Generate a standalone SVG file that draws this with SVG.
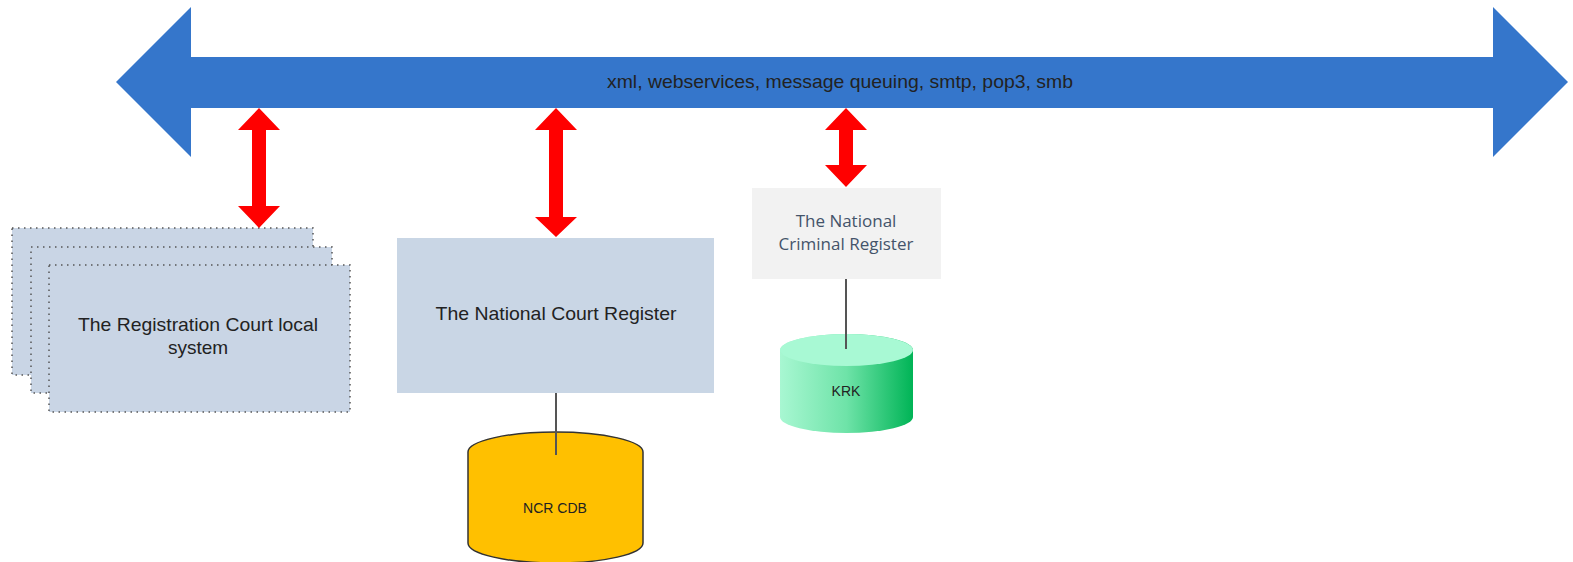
<svg xmlns="http://www.w3.org/2000/svg" width="1573" height="562" viewBox="0 0 1573 562">
  <defs>
    <linearGradient id="krkGrad" x1="0" y1="0" x2="1" y2="0">
      <stop offset="0" stop-color="#a8f7d2"/>
      <stop offset="0.5" stop-color="#6ee3a8"/>
      <stop offset="1" stop-color="#00b456"/>
    </linearGradient>
    <style>
      .lbl { font-family: "Liberation Sans", Arial, sans-serif; fill: #222; text-anchor: middle; }
      .stack { fill: #c9d5e5; stroke: #555; stroke-width: 1.5; stroke-dasharray: 1.5 4.5; }
      .red { fill: #ff0000; }
      .link { stroke: #555; stroke-width: 2; fill: none; }
      .ocr { font-family: "Open Sans", "Noto Sans", sans-serif; fill: #44546a; text-anchor: middle; font-size: 17px; }
    </style>
  </defs>
  <rect width="1573" height="562" fill="#ffffff"/>

  <g id="bus">
    <polygon points="116,82 191,7 191,57 1493,57 1493,7 1568,82 1493,157 1493,108 191,108 191,157" fill="#3576cb"/>
    <text class="lbl" x="840" y="88" font-size="18.5" textLength="466" lengthAdjust="spacingAndGlyphs">xml, webservices, message queuing, smtp, pop3, smb</text>
  </g>

  <g id="registration-court">
    <rect class="stack" x="12" y="228" width="301" height="147"/>
    <rect class="stack" x="31" y="247" width="301" height="146"/>
    <rect class="stack" x="49" y="265" width="301" height="147"/>
    <text class="lbl" x="198" y="331" font-size="19" textLength="240" lengthAdjust="spacingAndGlyphs">The Registration Court local</text>
    <text class="lbl" x="198" y="354" font-size="19">system</text>
  </g>

  <g id="national-court-register">
    <rect x="397" y="238" width="317" height="155" fill="#c9d6e5"/>
    <text class="lbl" x="556" y="320" font-size="19" textLength="241" lengthAdjust="spacingAndGlyphs">The National Court Register</text>
  </g>

  <g id="national-criminal-register">
    <rect x="752" y="188" width="189" height="91" fill="#f2f2f2"/>
    <text class="ocr" x="846" y="227">The National</text>
    <text class="ocr" x="846" y="250">Criminal Register</text>
  </g>

  <g id="ncr-cdb">
    <path d="M468,452 A87.5,20 0 0 1 643,452 L643,543 A87.5,20 0 0 1 468,543 Z" fill="#ffc000" stroke="#333" stroke-width="1.5"/>
    <text class="lbl" x="555" y="513" font-size="14">NCR CDB</text>
  </g>

  <g id="krk">
    <path d="M780,350 A66.5,16 0 0 1 913,350 L913,417 A66.5,16 0 0 1 780,417 Z" fill="url(#krkGrad)"/>
    <ellipse cx="846.5" cy="350" rx="66.5" ry="16" fill="#a8f9d4"/>
    <text class="lbl" x="846" y="396" font-size="14">KRK</text>
  </g>

  <g id="connectors">
    <polygon class="red" points="259,108 280,130 266,130 266,206 280,206 259,228 238,206 252,206 252,130 238,130"/>
    <polygon class="red" points="556,108 577,130 563,130 563,217 577,217 556,237 535,217 549,217 549,130 535,130"/>
    <polygon class="red" points="846,108 867,130 853,130 853,165 867,165 846,187 825,165 839,165 839,130 825,130"/>
    <line class="link" x1="556" y1="393" x2="556" y2="455"/>
    <line class="link" x1="846" y1="279" x2="846" y2="349"/>
  </g>
</svg>
